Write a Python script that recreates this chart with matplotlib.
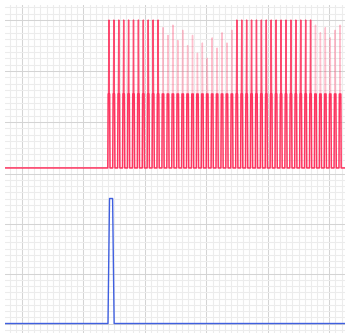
import matplotlib
matplotlib.use("Agg")
import matplotlib.pyplot as plt
from matplotlib.ticker import MultipleLocator
from matplotlib.collections import LineCollection
import numpy as np

# membrane trace (mV) and injected current (nA), time in ms
t_end = 553.0
v_rest = -58.0
v_mid = -29.0

spike_times = [169, 177, 185, 193, 201, 209, 217, 225, 233, 241, 249,
               257, 265, 273, 281, 289, 297, 305, 313, 321, 329, 337, 345,
               353, 361, 369,
               377, 385, 393, 401, 409, 417, 425, 433, 441, 449, 457, 465,
               473, 481, 489, 497,
               505, 513, 521, 529, 537, 545]
spike_peaks = [0, 0, 0, 0, 0, 0, 0, 0, 0, 0, 0,
               -3, -6, -2, -8, -4, -10, -6, -13, -9, -15, -7, -11,
               -5, -9, -4,
               0, 0, 0, 0, 0, 0, 0, 0, 0, 0, 0, 0,
               0, 0, 0, 0,
               -2, -5, -3, -7, -4, -2]

pulse_t = [0, 167.5, 170, 175, 177.5, t_end]
pulse_i = [0, 0, 2.5, 2.5, 0, 0]

red = "#ff1f4f"


def build_trace():
    tt = [0.0]
    vv = [v_rest]
    for ts in spike_times:
        tt += [ts - 1.8, ts - 1.2, ts + 1.2, ts + 1.8]
        vv += [v_rest, v_mid, v_mid, v_rest]
    tt.append(t_end)
    vv.append(v_rest)
    return np.array(tt), np.array(vv)


def style(ax, major_y, minor_y):
    ax.set_xlim(0, t_end)
    ax.xaxis.set_major_locator(MultipleLocator(100, offset=27.5))
    ax.xaxis.set_minor_locator(MultipleLocator(10, offset=7.5))
    ax.yaxis.set_major_locator(MultipleLocator(major_y))
    ax.yaxis.set_minor_locator(MultipleLocator(minor_y))
    ax.grid(which="major", color="#d4d4d4", linewidth=0.75)
    ax.grid(which="minor", color="#ececec", linewidth=0.75)
    ax.set_axisbelow(True)
    for s in ax.spines.values():
        s.set_visible(False)
    ax.tick_params(which="both", length=0, labelbottom=False, labelleft=False)


W, H = 345, 335
fig = plt.figure(figsize=(W / 100, H / 100), dpi=100)
ax_v = fig.add_axes([5 / W, (H - 170.5) / H, 340 / W, 165.5 / H])
ax_i = fig.add_axes([5 / W, (H - 333) / H, 340 / W, 162.5 / H])

# subthreshold part of every spike
t, v = build_trace()
ax_v.plot(t, v, color=red, linewidth=1.1, alpha=0.9)

# spike tips above the mid level, faint where the peak was undersampled
tips = []
alphas = []
for ts, vp in zip(spike_times, spike_peaks):
    tips.append([(ts - 0.6, v_mid), (ts, vp), (ts + 0.6, v_mid)])
    alphas.append(0.8 if vp > -1 else 0.28)
lc = LineCollection(tips, colors=[(1.0, 0.12, 0.31, a) for a in alphas],
                    linewidths=1.0)
ax_v.add_collection(lc)
ax_v.set_ylim(-59.0, 5.9)
style(ax_v, 20, 2.5)

ax_i.plot(pulse_t, pulse_i, color="#3f5fe0", linewidth=1.0)
ax_i.set_ylim(-0.19, 3.06)
style(ax_i, 1, 0.125)

fig.savefig("out.png", dpi=100)
